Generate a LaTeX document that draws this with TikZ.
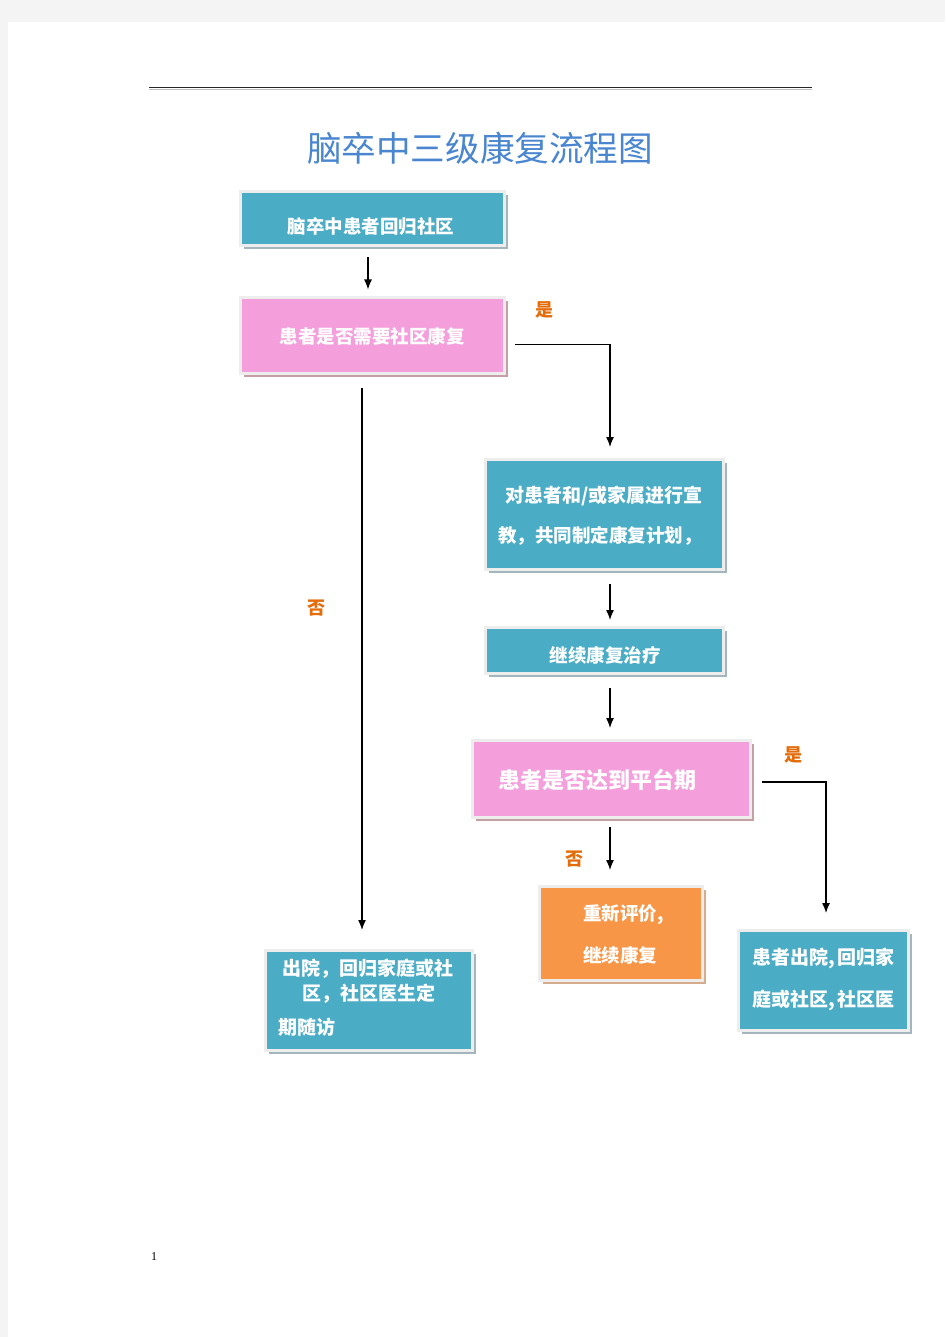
\documentclass[tikz,border=0pt]{standalone}
\usepackage{fontspec}
\setmainfont{Liberation Serif}
\newfontfamily\cjk{Noto Sans CJK SC}
\usetikzlibrary{arrows.meta,shadows}
\definecolor{tealbox}{HTML}{4BACC6}
\definecolor{pinkbox}{HTML}{F49EDC}
\definecolor{orangebox}{HTML}{F79646}
\definecolor{framegray}{HTML}{EDEDED}
\definecolor{shteal}{HTML}{A3B6BE}
\definecolor{shpink}{HTML}{C4A0A4}
\definecolor{shorange}{HTML}{D6AC8C}
\definecolor{lbl}{HTML}{E46C0A}
\definecolor{titleblue}{HTML}{4A86D0}
\definecolor{pagebg}{HTML}{F4F4F4}
\tikzset{
  box/.style 2 args={fill=#1, draw=framegray, line width=3pt, inner sep=0pt, outer sep=0pt,
    drop shadow={shadow xshift=3pt, shadow yshift=-3.5pt, opacity=1, fill=#2}},
  txt/.style={font=\cjk\bfseries\fontsize{18.5}{22}\selectfont, text=white, inner sep=0pt},
  lab/.style={font=\cjk\bfseries\fontsize{18}{22}\selectfont, text=lbl, inner sep=0pt},
  arr/.style={draw=black, line width=1.3pt, -{Latex[length=10pt,width=8pt]}},
}
\begin{document}
\begin{tikzpicture}[x=1pt,y=-1pt]
\useasboundingbox (0,0) rectangle (945,1337);
\fill[pagebg] (0,0) rectangle (945,1337);
\fill[white] (8,22) rectangle (945,1337);
% header rule
\draw[line width=1.4pt, color=black!85] (149,87.5) -- (812,87.5);
\draw[line width=0.8pt, color=black!25] (149,89.4) -- (812,89.4);
% title
\node[font=\cjk\fontsize{34.6}{40}\selectfont, text=titleblue, inner sep=0pt] (title) at (480,148) {脑卒中三级康复流程图};

% boxes
\node[box={tealbox}{shteal}, minimum width=264pt, minimum height=54pt] (b1) at (372.5,218.5) {};
\node[box={pinkbox}{shpink}, minimum width=264pt, minimum height=75.5pt] (b2) at (372.5,335.75) {};
\node[box={tealbox}{shteal}, minimum width=238pt, minimum height=110pt] (b3) at (604.5,514.5) {};
\node[box={tealbox}{shteal}, minimum width=238pt, minimum height=46pt] (b4) at (604.5,650.5) {};
\node[box={pinkbox}{shpink}, minimum width=278pt, minimum height=77pt] (b5) at (611.5,779) {};
\node[box={orangebox}{shorange}, minimum width=163pt, minimum height=94pt] (b6) at (621,933.5) {};
\node[box={tealbox}{shteal}, minimum width=170pt, minimum height=100pt] (b7) at (823.5,980.5) {};
\node[box={tealbox}{shteal}, minimum width=207pt, minimum height=100pt] (b8) at (369,1000.5) {};

% texts
\node[txt] (t1) at (371,226.5) {脑卒中患者回归社区};
\node[txt] (t2) at (372,336) {患者是否需要社区康复};
\node[txt, font=\cjk\bfseries\fontsize{19}{22}\selectfont] (t3a) at (604,496) {对患者和/或家属进行宣};
\node[txt] (t3b) at (600,536) {教，共同制定康复计划，};
\node[txt] (t4) at (605,655) {继续康复治疗};
\node[txt, font=\cjk\bfseries\fontsize{22}{26}\selectfont] (t5) at (597,779.5) {患者是否达到平台期};
\node[txt, anchor=west] (t6a) at (583,915) {重新评价,};
\node[txt, anchor=west] (t6b) at (583,955) {继续康复};
\node[txt, anchor=west, font=\cjk\bfseries\fontsize{19}{22}\selectfont] (t7a) at (752,958) {患者出院,\kern3pt 回归家};
\node[txt, anchor=west, font=\cjk\bfseries\fontsize{19}{22}\selectfont] (t7b) at (752,1000) {庭或社区,\kern3pt 社区医};
\node[txt, font=\cjk\bfseries\fontsize{19}{22}\selectfont] (t8a) at (368,969) {出院，回归家庭或社};
\node[txt, font=\cjk\bfseries\fontsize{19}{22}\selectfont] (t8b) at (368.5,994) {区，社区医生定};
\node[txt, anchor=west, font=\cjk\bfseries\fontsize{19}{22}\selectfont] (t8c) at (278,1027) {期随访};

% labels
\node[lab] (yes1) at (544,310) {是};
\node[lab] (no1) at (316,608) {否};
\node[lab] (yes2) at (793,755) {是};
\node[lab] (no2) at (574,859) {否};

% connectors
\draw[arr, shorten <=11.5pt, shorten >=8.5pt] ([xshift=-4.5pt]b1.south) -- ([xshift=-4.5pt]b1.south |- b2.north);
\draw[arr, shorten >=12.5pt] ([xshift=10.5pt,yshift=-9pt]b2.east) -| ([xshift=5.5pt]b3.north);
\draw[arr, shorten <=14.5pt, shorten >=20.5pt] ([xshift=-10.5pt]b2.south) -- ([xshift=-10.5pt]b2.south |- b8.north);
\draw[arr, shorten <=14.5pt, shorten >=7.5pt] ([xshift=5.5pt]b3.south) -- ([xshift=5.5pt]b3.south |- b4.north);
\draw[arr, shorten <=14.5pt, shorten >=12.5pt] ([xshift=5.5pt]b4.south) -- ([xshift=5.5pt]b4.south |- b5.north);
\draw[arr, shorten <=9.5pt, shorten >=16.5pt] ([xshift=-1.5pt]b5.south) -- ([xshift=-1.5pt]b5.south |- b6.north);
\draw[arr, shorten >=17.5pt] ([xshift=11.5pt,yshift=-3pt]b5.east) -| ([xshift=2.5pt]b7.north);

% page number
\node[font=\fontsize{12}{14}\selectfont, inner sep=0pt] (pg) at (154,1257) {1};
\end{tikzpicture}
\end{document}
